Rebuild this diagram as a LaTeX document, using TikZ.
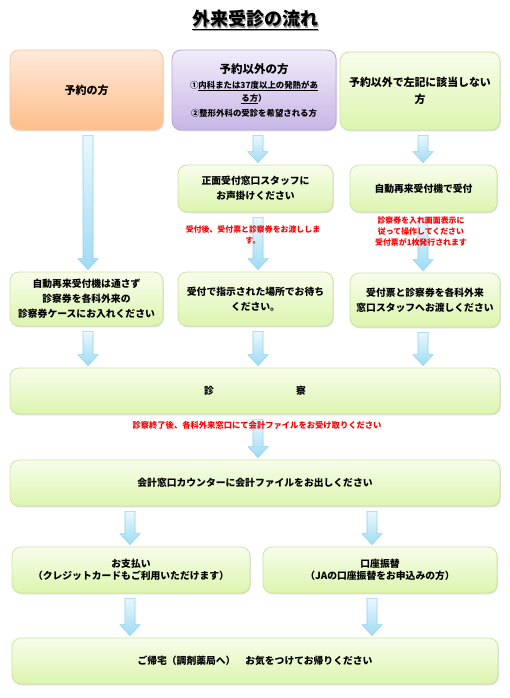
\documentclass[tikz,border=0pt]{standalone}
\usepackage{fontspec}
\setmainfont{Noto Sans CJK JP}
\usetikzlibrary{calc,shadows}

\definecolor{orangetop}{HTML}{FFEADB}
\definecolor{orangebot}{HTML}{FDBE8A}
\definecolor{orangeline}{HTML}{F6C9A2}
\definecolor{purpletop}{HTML}{F1EDFA}
\definecolor{purplebot}{HTML}{C7B6E5}
\definecolor{purpleline}{HTML}{B8A6D8}
\definecolor{greentop}{HTML}{F7FDEB}
\definecolor{greenbot}{HTML}{DCF5AE}
\definecolor{greenline}{HTML}{CFE3A6}
\definecolor{arrowtop}{HTML}{EAF8FE}
\definecolor{arrowbot}{HTML}{9FDBF4}
\definecolor{arrowline}{HTML}{92D2EC}

\tikzset{
  stepbase/.style={rounded corners=9pt, line width=0.8pt, align=center,
    font=\bfseries\fontsize{9.8}{15}\selectfont, inner sep=2pt,
    drop shadow={shadow xshift=0.8pt, shadow yshift=-1.3pt, opacity=0.25}},
  greenbox/.style={stepbase, draw=greenline, top color=greentop, bottom color=greenbot},
  orangebox/.style={stepbase, draw=orangeline, top color=orangetop, bottom color=orangebot},
  purplebox/.style={stepbase, draw=purpleline, top color=purpletop, bottom color=purplebot},
  blockarrow/.style={draw=arrowline, line width=0.6pt, top color=arrowtop, bottom color=arrowbot},
  rednote/.style={text=red, align=center, font=\bfseries\fontsize{7.9}{11}\selectfont},
}

% block arrow: x position, from node, to node
\newcommand\flowdown[3]{%
  \draw[blockarrow] let \p1=(#2.south), \p2=(#3.north), \p3=(#1,0) in
    (\x3-5pt,\y1-5pt) -- (\x3+5pt,\y1-5pt) -- (\x3+5pt,\y2+13pt) -- (\x3+10pt,\y2+13pt)
    -- (\x3,\y2+2pt) -- (\x3-10pt,\y2+13pt) -- (\x3-5pt,\y2+13pt) -- cycle;}

\begin{document}
\begin{tikzpicture}[x=1pt, y=-1pt]
  \useasboundingbox[fill=white] (0,0) rectangle (510,698);

  % title
  \node[text=black!40, font=\bfseries\fontsize{18}{20}\selectfont] at (256.3,21.3) {\underline{外来受診の流れ}};
  \node (title) [font=\bfseries\fontsize{18}{20}\selectfont] at (255,20) {\underline{外来受診の流れ}};

  % first row
  \node (yoyaku) [orangebox, minimum width=153pt, minimum height=80pt, font=\bfseries\fontsize{11}{15}\selectfont]
    at (86.5,90) {予約の方};
  \node (igai) [purplebox, minimum width=164pt, minimum height=80pt] at (254,90)
    {{\fontsize{11.5}{14}\selectfont 予約以外の方}\\[0pt]
     {\fontsize{8.4}{11}\selectfont ①\underline{内科または37度以上の発熱があ}}\\[-2pt]
     {\fontsize{8.4}{11}\selectfont \underline{る方}）}\\[0pt]
     {\fontsize{8.4}{11}\selectfont ②整形外科の受診を希望される方}};
  \node (gaito) [greenbox, minimum width=160pt, minimum height=78pt, font=\bfseries\fontsize{10.9}{17}\selectfont]
    at (420,91) {予約以外で左記に該当しない\\方};

  % second row
  \node (shomen) [greenbox, minimum width=155pt, minimum height=47pt] at (255.5,188.5)
    {正面受付窓口スタッフに\\お声掛けください};
  \node (jidou) [greenbox, minimum width=147pt, minimum height=47pt] at (423.5,188.5)
    {自動再来受付機で受付};

  % third row
  \node (case) [greenbox, minimum width=153pt, minimum height=54pt] at (86.5,299)
    {自動再来受付機は通さず\\診察券を各科外来の\\診察券ケースにお入れください};
  \node (matsu) [greenbox, minimum width=155pt, minimum height=54pt] at (255.5,299)
    {受付で指示された場所でお待ち\\ください。};
  \node (watasu) [greenbox, minimum width=150pt, minimum height=54pt] at (425,300)
    {受付票と診察券を各科外来\\窓口スタッフへお渡しください};

  \node (shinsatsu) [greenbox, minimum width=490pt, minimum height=46pt] at (255,391)
    {診\hspace{82pt}察};
  \node (kaikei) [greenbox, minimum width=490pt, minimum height=46pt] at (255,483)
    {会計窓口カウンターに会計ファイルをお出しください};

  \node (shiharai) [greenbox, minimum width=238pt, minimum height=46pt] at (131,570)
    {お支払い\\[-3pt]（クレジットカードもご利用いただけます）};
  \node (furikae) [greenbox, minimum width=234pt, minimum height=46pt] at (380,570)
    {口座振替\\[-3pt]（JAの口座振替をお申込みの方）};

  \node (kitaku) [greenbox, minimum width=486pt, minimum height=46pt] at (255,661)
    {ご帰宅（調剤薬局へ）　お気をつけてお帰りください};

  % arrows
  \flowdown{88}{yoyaku}{case}
  \flowdown{258}{igai}{shomen}
  \flowdown{423}{gaito}{jidou}
  \flowdown{258}{shomen}{matsu}
  \flowdown{423}{jidou}{watasu}
  \flowdown{88}{case}{shinsatsu}
  \flowdown{258}{matsu}{shinsatsu}
  \flowdown{423}{watasu}{shinsatsu}
  \flowdown{258}{shinsatsu}{kaikei}
  \flowdown{130}{kaikei}{shiharai}
  \flowdown{372}{kaikei}{furikae}
  \flowdown{130}{shiharai}{kitaku}
  \flowdown{372}{furikae}{kitaku}

  % notes
  \node (note1) [rednote] at (253,235) {受付後、受付票と診察券をお渡ししま\\す。};
  \node (note2) [rednote] at (421,232) {診察券を入れ画面表示に\\従って操作してください\\受付票が1枚発行されます};
  \node (note3) [rednote, font=\bfseries\fontsize{8.3}{11}\selectfont] at (257,425)
    {診察終了後、各科外来窓口にて会計ファイルをお受け取りください};
\end{tikzpicture}
\end{document}
